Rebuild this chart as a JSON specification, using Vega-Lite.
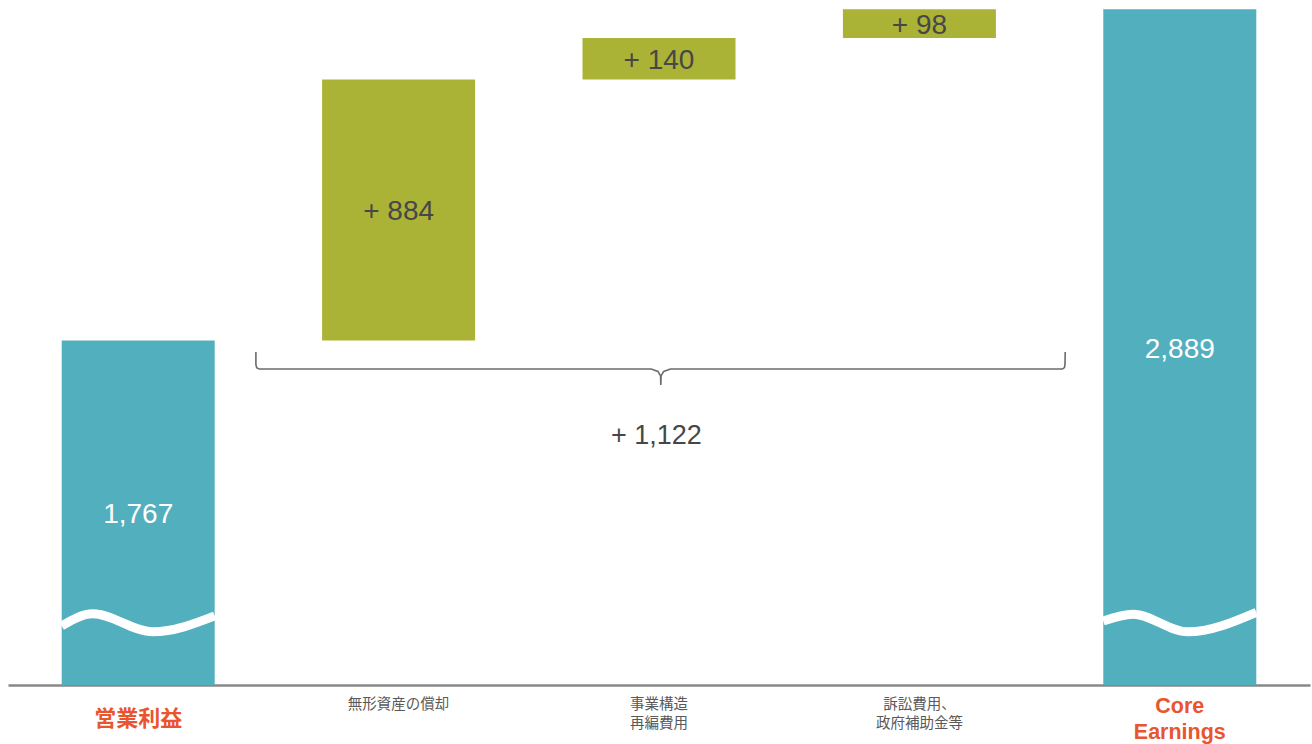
{
  "$schema": "https://vega.github.io/schema/vega-lite/v6.json",
  "width": 1302,
  "height": 685,
  "autosize": {"type": "none"},
  "padding": {"left": 8, "top": 0, "right": 2, "bottom": 59},
  "background": "white",
  "config": {"view": {"stroke": null}, "font": "Liberation Sans"},
  "datasets": {
    "bars": [
      {"category": "営業利益", "pos": 0, "start": 0, "end": 1767, "kind": "total", "value": "1,767", "label": ["営業利益"]},
      {"category": "無形資産の償却", "pos": 1, "start": 1767, "end": 2651, "kind": "increase", "value": "+ 884", "label": ["無形資産の償却"]},
      {"category": "事業構造再編費用", "pos": 2, "start": 2651, "end": 2791, "kind": "increase", "value": "+ 140", "label": ["事業構造", "再編費用"]},
      {"category": "訴訟費用、政府補助金等", "pos": 3, "start": 2791, "end": 2889, "kind": "increase", "value": "+ 98", "label": ["訴訟費用、", "政府補助金等"]},
      {"category": "Core Earnings", "pos": 4, "start": 0, "end": 2889, "kind": "total", "value": "2,889", "label": ["Core", "Earnings"]}
    ],
    "waves": [
      {"seg": "a", "x": -0.294, "y": 800},
      {"seg": "a", "x": -0.174, "y": 841},
      {"seg": "a", "x": 0.057, "y": 780},
      {"seg": "a", "x": 0.294, "y": 834},
      {"seg": "b", "x": 3.706, "y": 817},
      {"seg": "b", "x": 3.82, "y": 840},
      {"seg": "b", "x": 4.03, "y": 780},
      {"seg": "b", "x": 4.294, "y": 846}
    ],
    "brace": [
      {"o": 1, "x": 0.452, "y": 1728},
      {"o": 2, "x": 0.452, "y": 1685},
      {"o": 3, "x": 0.455, "y": 1675},
      {"o": 4, "x": 0.465, "y": 1670},
      {"o": 5, "x": 1.97, "y": 1670},
      {"o": 6, "x": 1.996, "y": 1662},
      {"o": 7, "x": 2.006, "y": 1647},
      {"o": 8, "x": 2.007, "y": 1616},
      {"o": 9, "x": 2.008, "y": 1647},
      {"o": 10, "x": 2.018, "y": 1662},
      {"o": 11, "x": 2.044, "y": 1670},
      {"o": 12, "x": 3.549, "y": 1670},
      {"o": 13, "x": 3.557, "y": 1675},
      {"o": 14, "x": 3.559, "y": 1685},
      {"o": 15, "x": 3.56, "y": 1728}
    ],
    "total": [
      {"x": 1.99, "y": 1450, "text": "+ 1,122"}
    ]
  },
  "layer": [
    {
      "data": {"name": "bars"},
      "mark": {"type": "bar", "width": 153, "clip": true},
      "encoding": {
        "x": {"field": "pos", "type": "quantitative", "scale": {"domain": [-0.5, 4.5], "nice": false, "zero": false, "padding": 0},
              "axis": {"title": null, "labels": false, "ticks": false, "grid": false, "domainColor": "#888888", "domainWidth": 2.5}},
        "y": {"field": "start", "type": "quantitative", "scale": {"domain": [600, 2920], "nice": false, "zero": false}, "axis": null},
        "y2": {"field": "end"},
        "color": {"field": "kind", "type": "nominal", "scale": {"domain": ["total", "increase"], "range": ["#52AFBE", "#ABB337"]}, "legend": null}
      }
    },
    {
      "data": {"name": "waves"},
      "mark": {"type": "line", "interpolate": "monotone", "stroke": "white", "strokeWidth": 9, "strokeCap": "butt"},
      "encoding": {
        "x": {"field": "x", "type": "quantitative"},
        "y": {"field": "y", "type": "quantitative"},
        "detail": {"field": "seg"}
      }
    },
    {
      "data": {"name": "bars"},
      "transform": [{"calculate": "(max(datum.start, 600) + datum.end) / 2", "as": "mid"}],
      "mark": {"type": "text", "fontSize": 28, "font": "Liberation Sans", "baseline": "middle", "align": "center", "dy": 2.5},
      "encoding": {
        "x": {"field": "pos", "type": "quantitative"},
        "y": {"field": "mid", "type": "quantitative"},
        "text": {"field": "value"},
        "color": {"condition": {"test": "datum.kind == 'total'", "value": "#FFFFFF"}, "value": "#474747"}
      }
    },
    {
      "data": {"name": "brace"},
      "mark": {"type": "line", "stroke": "#6B6B6B", "strokeWidth": 1.6},
      "encoding": {
        "x": {"field": "x", "type": "quantitative"},
        "y": {"field": "y", "type": "quantitative"},
        "order": {"field": "o"}
      }
    },
    {
      "data": {"name": "total"},
      "mark": {"type": "text", "fontSize": 27, "font": "Liberation Sans", "color": "#474747", "baseline": "middle", "align": "center", "dy": 2},
      "encoding": {
        "x": {"field": "x", "type": "quantitative"},
        "y": {"field": "y", "type": "quantitative"},
        "text": {"field": "text"}
      }
    },
    {
      "data": {"name": "bars"},
      "transform": [{"filter": "datum.pos == 0"}],
      "mark": {"type": "text", "fontSize": 22, "fontWeight": "bold", "font": "Noto Sans CJK JP", "color": "#E9552E", "baseline": "middle", "align": "center", "dy": 34},
      "encoding": {
        "x": {"field": "pos", "type": "quantitative"},
        "y": {"datum": 600, "type": "quantitative"},
        "text": {"field": "label"}
      }
    },
    {
      "data": {"name": "bars"},
      "transform": [{"filter": "datum.pos == 4"}],
      "mark": {"type": "text", "fontSize": 21.5, "fontWeight": "bold", "font": "Liberation Sans", "color": "#E9552E", "baseline": "middle", "align": "center", "lineHeight": 26, "dy": 22},
      "encoding": {
        "x": {"field": "pos", "type": "quantitative"},
        "y": {"datum": 600, "type": "quantitative"},
        "text": {"field": "label"}
      }
    },
    {
      "data": {"name": "bars"},
      "transform": [{"filter": "datum.kind == 'increase'"}],
      "mark": {"type": "text", "fontSize": 14.5, "font": "Noto Sans CJK JP", "color": "#595959", "baseline": "top", "align": "center", "lineHeight": 18.5, "dy": 13},
      "encoding": {
        "x": {"field": "pos", "type": "quantitative"},
        "y": {"datum": 600, "type": "quantitative"},
        "text": {"field": "label"}
      }
    }
  ]
}
